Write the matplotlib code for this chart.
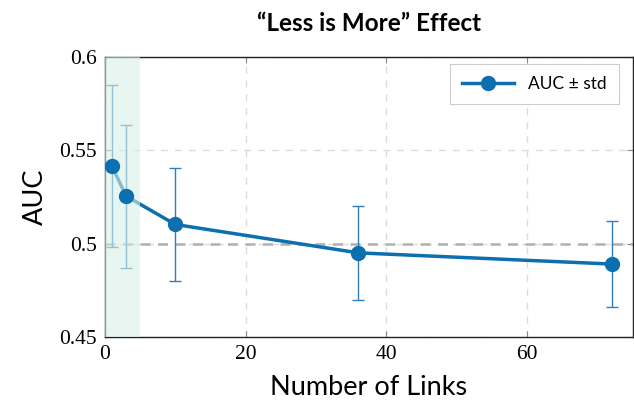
import matplotlib
matplotlib.use('Agg')
import matplotlib.pyplot as plt

# valores
links = [1, 3, 10, 36, 72]
auc = [0.5415, 0.5255, 0.5103, 0.4951, 0.4891]
std = [0.0435, 0.0383, 0.0303, 0.0251, 0.0232]
shade_end = 5
xticks = [0, 20, 40, 60]
yticks = [0.45, 0.5, 0.55, 0.6]
ytick_labels = ['0.45', '0.5', '0.55', '0.6']

sans = ['Lato', 'DejaVu Sans']
plt.rcParams['font.family'] = ['Liberation Serif', 'DejaVu Serif']

fig = plt.figure(figsize=(6.34, 4.08), dpi=100)
ax = fig.add_axes([0.1656, 0.174, 0.8325, 0.686])

blue = '#0b6fb0'

# barras de error y linea (debajo del sombreado)
ax.errorbar(links, auc, yerr=std, fmt='none', ecolor='#2f7dbb', elinewidth=1.0,
            capsize=4, capthick=1.0, zorder=2)
ax.plot(links, auc, color=blue, lw=2.5, zorder=2)

# zona sombreada
ax.axvspan(0, shade_end, color='#d8f0e6', alpha=0.6, lw=0, zorder=3)

# marcadores encima
ax.plot(links, auc, color=blue, lw=0, marker='o', markersize=10, zorder=4)
# solo para la leyenda
ax.plot([], [], color=blue, lw=2.5, marker='o', markersize=10, label='AUC ± std')

ax.axhline(0.5, color='#b0b0b0', lw=1.8, ls=(0, (4, 3)), zorder=1.5)

ax.set_xlim(0, 75)
ax.set_ylim(0.45, 0.6)
ax.set_xticks(xticks)
ax.set_yticks(yticks)
ax.set_yticklabels(ytick_labels)
ax.grid(True, color='#dcdcdc', lw=1.0, ls=(0, (5, 5)), zorder=0)
ax.set_axisbelow(True)
ax.tick_params(direction='in', length=4, color='#888888', labelsize=15.5,
               top=True, right=True, pad=6)
for s in ax.spines.values():
    s.set_color('#222222')
    s.set_linewidth(1.0)

ax.set_xlabel('Number of Links', fontsize=19.5, family=sans, labelpad=8)
ax.set_ylabel('AUC', fontsize=19.5, family=sans, labelpad=8)
ax.set_title('“Less is More” Effect', fontsize=17.5, fontweight='bold', family=sans, pad=19)

leg = ax.legend(loc='upper right', bbox_to_anchor=(0.973, 0.975),
                prop={'family': sans, 'size': 12.5}, fancybox=False,
                edgecolor='#cccccc', framealpha=1, handlelength=3.0,
                borderaxespad=0, borderpad=0.7)
leg.get_frame().set_linewidth(0.8)

fig.savefig('out.png', dpi=100)
